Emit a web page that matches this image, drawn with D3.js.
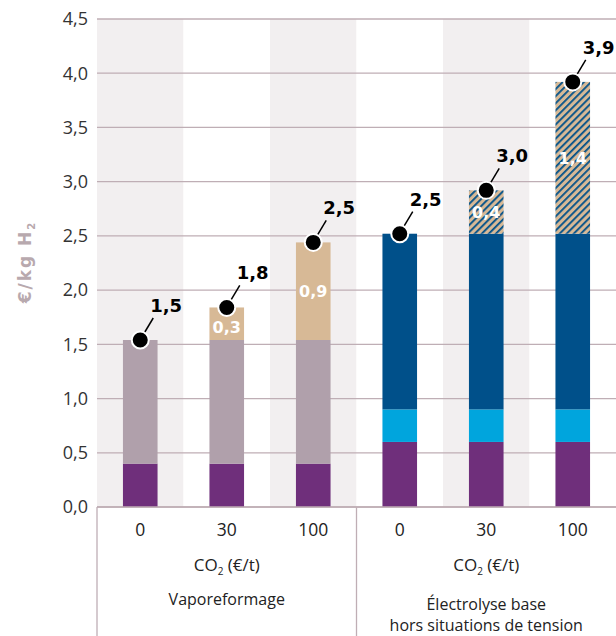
<!DOCTYPE html>
<html lang="fr">
<head>
<meta charset="utf-8">
<title>Coût de l'hydrogène</title>
<script src="https://d3js.org/d3.v7.min.js"></script>
<style>
  body { margin: 0; background: #fff; }
  svg text { font-family: "Open Sans", Lato, sans-serif; }
</style>
</head>
<body>
<script>
// categories (CO2 price) and groups
var categories = ["0", "30", "100", "0", "30", "100"];
var groups = [
  {name: ["Vaporeformage"], from: 0, to: 2},
  {name: ["Électrolyse base", "hors situations de tension"], from: 3, to: 5}
];
var yTicks = [0, 0.5, 1, 1.5, 2, 2.5, 3, 3.5, 4, 4.5];

// stacked segments, bottom to top
var purple   = [0.4, 0.4, 0.4, 0.6, 0.6, 0.6];
var mauve    = [1.14, 1.14, 1.14, 0, 0, 0];
var tan      = [0, 0.3, 0.9, 0, 0, 0];
var cyan     = [0, 0, 0, 0.3, 0.3, 0.3];
var blue     = [0, 0, 0, 1.62, 1.62, 1.62];
var hatched  = [0, 0, 0, 0, 0.4, 1.4];

var totalLabels = ["1,5", "1,8", "2,5", "2,5", "3,0", "3,9"];
var innerLabels = ["", "0,3", "0,9", "", "0,4", "1,4"];

var series = [
  {key: "purple", values: purple, fill: "#6f2f7b"},
  {key: "mauve", values: mauve, fill: "#b0a0ab"},
  {key: "tan", values: tan, fill: "#d7b996"},
  {key: "cyan", values: cyan, fill: "#00a5dd"},
  {key: "blue", values: blue, fill: "#00508a"},
  {key: "hatched", values: hatched, fill: "url(#hatch)"}
];

var W = 616, H = 636;
var mLeft = 97, mRight = 616, mTop = 19, mBottom = 507;

var svg = d3.select("body").append("svg")
  .attr("width", W).attr("height", H);

var defs = svg.append("defs");
var pat = defs.append("pattern")
  .attr("id", "hatch")
  .attr("patternUnits", "userSpaceOnUse")
  .attr("width", 5).attr("height", 5)
  .attr("patternTransform", "rotate(45)");
pat.append("rect").attr("width", 5).attr("height", 5).attr("fill", "#d7b996");
pat.append("rect").attr("x", 0).attr("width", 1.8).attr("height", 5).attr("fill", "#00508a");

var idx = d3.range(categories.length);
var xBand = d3.scaleBand().domain(idx).range([mLeft, mRight]).padding(0);
var x = d3.scaleBand().domain(idx).range([mLeft, mRight])
  .paddingInner(0.6).paddingOuter(0.3);
var y = d3.scaleLinear().domain([0, 4.5]).range([mBottom, mTop]);

// alternating background bands
svg.append("g").selectAll("rect")
  .data(idx).join("rect")
  .attr("x", function(d) { return xBand(d); })
  .attr("y", mTop)
  .attr("width", xBand.bandwidth())
  .attr("height", mBottom - mTop)
  .attr("fill", function(d) { return d % 2 == 0 ? "#f2eff0" : "#fff"; });

// gridlines
svg.append("g").selectAll("line")
  .data(yTicks).join("line")
  .attr("x1", mLeft).attr("x2", mRight)
  .attr("y1", function(d) { return y(d); })
  .attr("y2", function(d) { return y(d); })
  .attr("stroke", "#bfaeb5").attr("stroke-width", 1.3);

// y axis labels
svg.append("g").selectAll("text")
  .data(yTicks).join("text")
  .attr("x", 88)
  .attr("y", function(d) { return y(d); })
  .attr("dy", "0.35em")
  .attr("text-anchor", "end")
  .attr("font-size", 18)
  .attr("fill", "#333")
  .text(function(d) { return d3.format(".1f")(d).replace(".", ","); });

// y title
var yt = svg.append("text")
  .attr("transform", "translate(31,262) rotate(-90)")
  .attr("text-anchor", "middle")
  .attr("font-size", 17)
  .attr("font-weight", "bold")
  .attr("letter-spacing", 2)
  .attr("fill", "#b8a9ae")
  .style("font-family", "'DejaVu Sans'");
yt.append("tspan").text("€/kg H");
yt.append("tspan").attr("font-size", 10).attr("dy", 4).text("2");

// stacked bars
var stackData = idx.map(function(i) {
  var o = {i: i};
  series.forEach(function(s) { o[s.key] = s.values[i]; });
  return o;
});
var stacked = d3.stack().keys(series.map(function(s) { return s.key; }))(stackData);

svg.append("g").selectAll("g")
  .data(stacked).join("g")
  .attr("fill", function(d, k) { return series[k].fill; })
  .selectAll("rect")
  .data(function(d) { return d; }).join("rect")
  .attr("x", function(d) { return x(d.data.i); })
  .attr("y", function(d) { return y(d[1]); })
  .attr("width", x.bandwidth())
  .attr("height", function(d) { return y(d[0]) - y(d[1]); });

// inner labels on the top segment
var totals = idx.map(function(i) {
  return d3.sum(series, function(s) { return s.values[i]; });
});
svg.append("g").selectAll("text")
  .data(idx.filter(function(i) { return innerLabels[i]; })).join("text")
  .attr("x", function(i) { return x(i) + x.bandwidth() / 2; })
  .attr("y", function(i) {
    var topVal = tan[i] || hatched[i];
    return (y(totals[i]) + y(totals[i] - topVal)) / 2 + (i == 1 ? 4 : 0);
  })
  .attr("dy", "0.36em")
  .attr("text-anchor", "middle")
  .attr("font-weight", "bold")
  .attr("font-size", 16)
  .attr("fill", "#fff")
  .style("font-family", "'DejaVu Sans'")
  .text(function(i) { return innerLabels[i]; });

// total markers with leader lines
var mk = svg.append("g").selectAll("g")
  .data(idx).join("g")
  .attr("transform", function(i) {
    return "translate(" + (x(i) + x.bandwidth() / 2) + "," + y(totals[i]) + ")";
  });
mk.append("line")
  .attr("x1", 4).attr("y1", -7)
  .attr("x2", 13).attr("y2", -22)
  .attr("stroke", "#000").attr("stroke-width", 1.5);
mk.append("circle")
  .attr("r", 8.5)
  .attr("fill", "#000")
  .attr("stroke", "#fff")
  .attr("stroke-width", 2);
mk.append("text")
  .attr("x", 10).attr("y", -28)
  .attr("font-weight", "bold")
  .attr("font-size", 18)
  .attr("fill", "#000")
  .style("font-family", "'DejaVu Sans'")
  .text(function(i) { return totalLabels[i]; });

// bottom axis
svg.append("line")
  .attr("x1", mLeft).attr("x2", mRight)
  .attr("y1", mBottom).attr("y2", mBottom)
  .attr("stroke", "#bfaeb5").attr("stroke-width", 1.5);

svg.append("g").selectAll("line")
  .data(groups).join("line")
  .attr("x1", function(g) { return xBand(g.from); })
  .attr("x2", function(g) { return xBand(g.from); })
  .attr("y1", mBottom).attr("y2", H)
  .attr("stroke", "#bfaeb5").attr("stroke-width", 1.3);

svg.append("g").selectAll("text")
  .data(idx).join("text")
  .attr("x", function(i) { return x(i) + x.bandwidth() / 2; })
  .attr("y", 536)
  .attr("text-anchor", "middle")
  .attr("font-size", 17.5)
  .attr("fill", "#222")
  .text(function(i) { return categories[i]; });

var gl = svg.append("g").selectAll("g")
  .data(groups).join("g")
  .attr("transform", function(g) {
    return "translate(" + ((xBand(g.from) + xBand(g.to) + xBand.bandwidth()) / 2) + ",0)";
  });

var co2 = gl.append("text")
  .attr("y", 571)
  .attr("text-anchor", "middle")
  .attr("font-size", 17)
  .attr("fill", "#222");
co2.append("tspan").text("CO");
co2.append("tspan").attr("font-size", 10).attr("dy", 4).text("2");
co2.append("tspan").attr("dy", -4).text(" (€/t)");

gl.selectAll("text.name")
  .data(function(g) { return g.name.map(function(n, k) { return {n: n, k: k, len: g.name.length}; }); })
  .join("text")
  .attr("class", "name")
  .attr("text-anchor", "middle")
  .attr("y", function(d) { return d.len == 1 ? 605 : 610 + d.k * 21; })
  .attr("font-size", 16)
  .attr("fill", "#222")
  .text(function(d) { return d.n; });
</script>
</body>
</html>
